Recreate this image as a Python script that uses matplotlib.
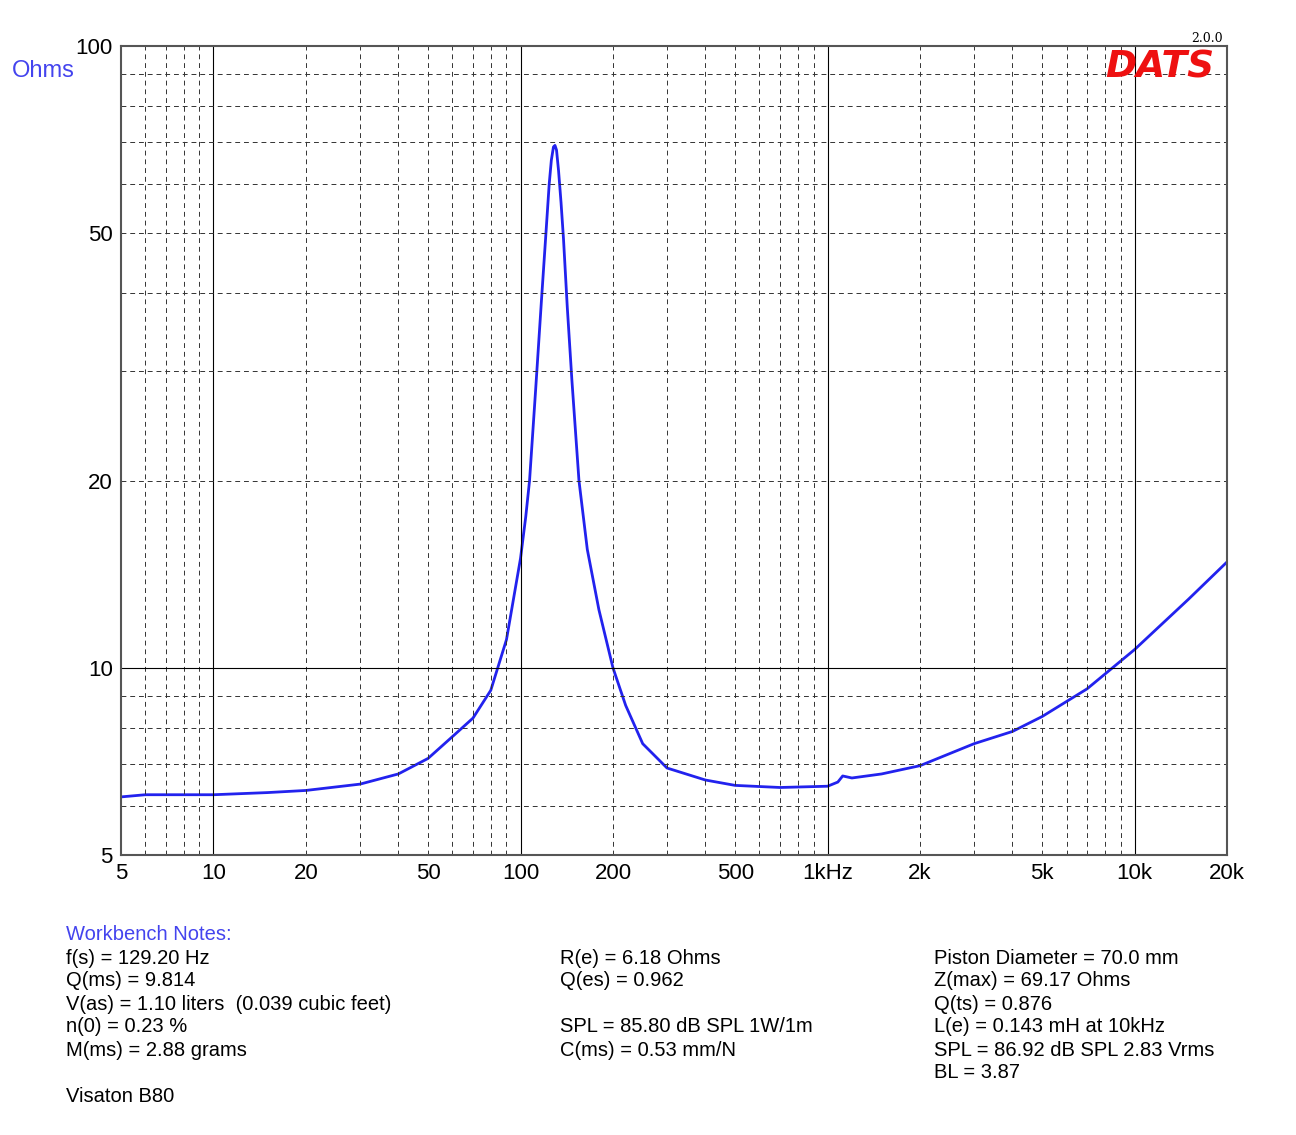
import matplotlib.pyplot as plt
from matplotlib.ticker import FixedLocator, NullFormatter, NullLocator

plt.rcParams['font.family'] = 'Liberation Sans'

# impedance curve
freq = [5, 6, 8, 10, 15, 20, 30, 40, 50, 60, 70, 80, 90, 100, 104, 107, 112, 117, 121, 124, 126, 128, 129.5, 131, 133, 135.5, 138, 142, 147, 155, 165, 180, 200, 220,
        250, 300, 400, 500, 700, 1000, 1080, 1120, 1200, 1500, 2000, 3000, 4000, 5000, 7000, 10000, 15000, 20000]
ohms = [6.2, 6.25, 6.25, 6.25, 6.3, 6.35, 6.5, 6.75, 7.15, 7.75, 8.3, 9.2, 11.1, 15.0, 17.5, 20.0, 28.0, 39.0, 50.0, 60.0, 65.5, 68.8, 69.2, 68.0, 63.0, 56.0, 49.0, 38.0, 29.0, 20.0, 15.5, 12.4, 10.0, 8.7,
        7.55, 6.9, 6.6, 6.47, 6.42, 6.45, 6.55, 6.7, 6.65, 6.75, 6.96, 7.55, 7.9, 8.35, 9.25, 10.7, 12.9, 14.8]

x_ticks = [5, 10, 20, 50, 100, 200, 500, 1000, 2000, 5000, 10000, 20000]
x_labels = ['5', '10', '20', '50', '100', '200', '500', '1kHz', '2k', '5k', '10k', '20k']
y_ticks = [5, 10, 20, 50, 100]

fig = plt.figure(figsize=(12.96, 11.35), dpi=100)
ax = fig.add_axes([0.0934, 0.2467, 0.8534, 0.7128])
ax.plot(freq, ohms, color='#2222ee', lw=2)
ax.set_xscale('log')
ax.set_yscale('log')
ax.set_xlim(5, 20000)
ax.set_ylim(5, 100)

ax.xaxis.set_major_locator(FixedLocator(x_ticks))
ax.set_xticklabels(x_labels, fontsize=16)
ax.xaxis.set_minor_locator(NullLocator())
ax.yaxis.set_major_locator(FixedLocator(y_ticks))
ax.set_yticklabels([str(v) for v in y_ticks], fontsize=16)
ax.yaxis.set_minor_locator(NullLocator())
ax.yaxis.set_minor_formatter(NullFormatter())
ax.tick_params(length=0, pad=6)

# grid
for dec in [1, 10, 100, 1000, 10000]:
    for m in range(1, 10):
        f = dec * m
        if f <= 5 or f >= 20000:
            continue
        if m == 1:
            ax.axvline(f, color='black', lw=0.8)
        else:
            ax.axvline(f, color='#333333', lw=0.7, ls=(0, (5, 4)))
for v in [6, 7, 8, 9, 20, 30, 40, 50, 60, 70, 80, 90]:
    ax.axhline(v, color='#333333', lw=0.7, ls=(0, (5, 4)))
ax.axhline(10, color='black', lw=0.8)
for s in ax.spines.values():
    s.set_color('#555555')
    s.set_linewidth(1.5)

fig.text(12 / 1296, 1 - 71 / 1135, 'Ohms', color='#4444ee', fontsize=17, va='center')
fig.text(1214 / 1296, 1 - 68 / 1135, 'DATS', color='#ee1111', fontsize=27, fontweight='bold',
         fontstyle='italic', ha='right', va='center', family='DejaVu Sans')
fig.text(1207 / 1296, 1 - 38 / 1135, '2.0.0', fontsize=9, ha='center', va='center', family='DejaVu Serif')

fs = 14.5
def col(x, y0, lines):
    for i, t in enumerate(lines):
        if t:
            fig.text(x / 1296, 1 - (y0 + 23 * i) / 1135, t, fontsize=fs, va='center')

fig.text(66 / 1296, 1 - 935 / 1135, 'Workbench Notes:', color='#4444ee', fontsize=fs, va='center')
col(66, 958, ['f(s) = 129.20 Hz', 'Q(ms) = 9.814', 'V(as) = 1.10 liters  (0.039 cubic feet)',
              'n(0) = 0.23 %', 'M(ms) = 2.88 grams', '', 'Visaton B80'])
col(560, 958, ['R(e) = 6.18 Ohms', 'Q(es) = 0.962', '', 'SPL = 85.80 dB SPL 1W/1m', 'C(ms) = 0.53 mm/N'])
col(934, 958, ['Piston Diameter = 70.0 mm', 'Z(max) = 69.17 Ohms', 'Q(ts) = 0.876',
               'L(e) = 0.143 mH at 10kHz', 'SPL = 86.92 dB SPL 2.83 Vrms', 'BL = 3.87'])

fig.savefig('out.png')
